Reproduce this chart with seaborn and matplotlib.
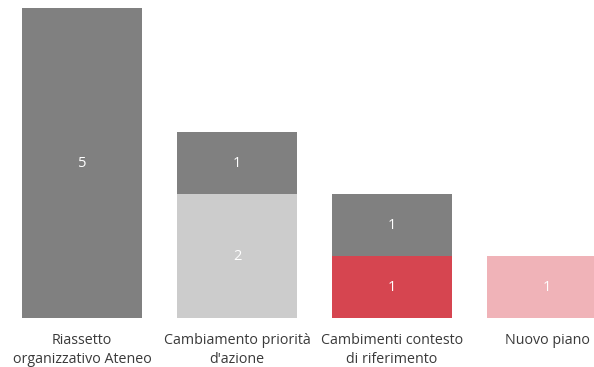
import numpy as np
import pandas as pd
import seaborn as sns
import matplotlib.pyplot as plt

categories = ["Riassetto\norganizzativo Ateneo", "Cambiamento priorità\nd'azione",
              "Cambimenti contesto\ndi riferimento", "Nuovo piano"]
# stacked segments, bottom to top
light_vals = [0, 2, 0, 0]
red_vals = [0, 0, 1, 0]
pink_vals = [0, 0, 0, 1]
dark_vals = [5, 1, 1, 0]

series = [(light_vals, "#cccccc"), (red_vals, "#d64550"),
          (pink_vals, "#f0b3b8"), (dark_vals, "#808080")]

plt.rcParams['font.family'] = ['Open Sans', 'DejaVu Sans']
fig = plt.figure(figsize=(5.94, 3.67), dpi=100)
ax = fig.add_axes([0, 49 / 367, 1, 318 / 367])

bottom = np.zeros(len(categories))
for vals, color in series:
    df = pd.DataFrame({"cat": categories, "val": vals})
    sns.barplot(data=df, x="cat", y="val", color=color, bottom=bottom,
                width=0.77, saturation=1, ax=ax, linewidth=0)
    for i, v in enumerate(vals):
        if v > 0:
            ax.text(i, bottom[i] + v / 2, str(v), ha="center", va="center",
                    color="white", fontsize=10.5)
    bottom = bottom + np.array(vals)

ax.set_xlim(-0.529, 3.303)
ax.set_ylim(0, 5.13)
ax.set_xlabel("")
ax.set_ylabel("")
ax.set_yticks([])
ax.tick_params(axis="x", length=0, pad=11, labelsize=10.3, labelcolor="#3a3a3a")
for lbl in ax.get_xticklabels():
    lbl.set_linespacing(1.3)
for s in ax.spines.values():
    s.set_visible(False)

fig.savefig("out.png", dpi=100)
